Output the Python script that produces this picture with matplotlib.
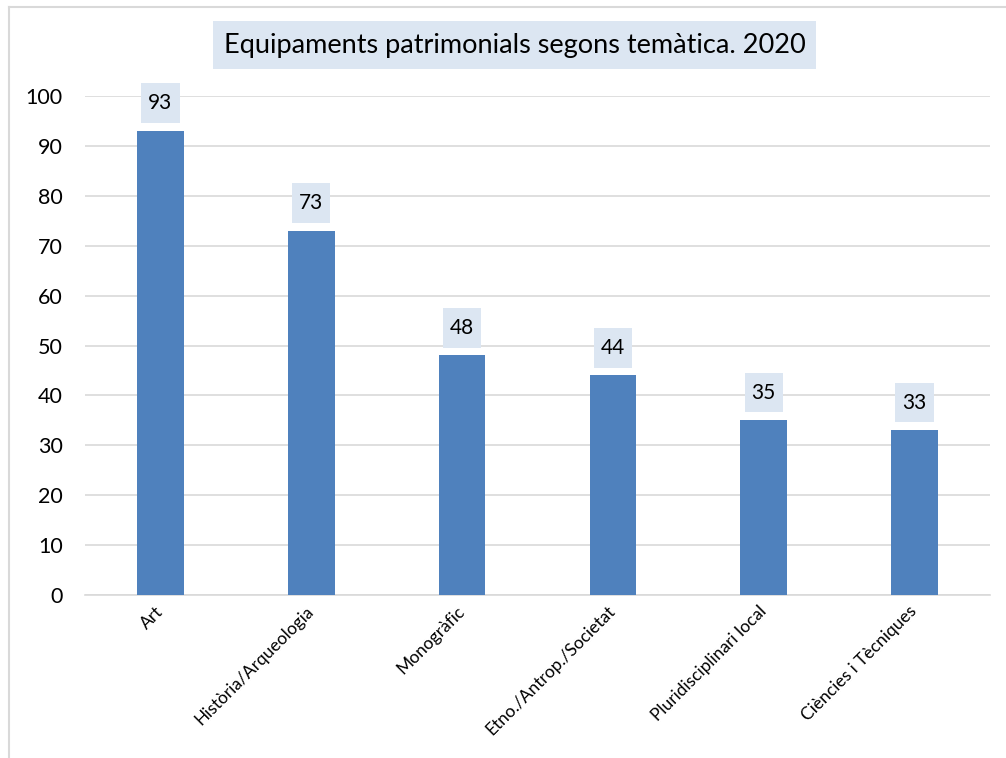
import matplotlib
matplotlib.use("Agg")
import matplotlib.pyplot as plt
from matplotlib.lines import Line2D

categories = ["Art", "Història/Arqueologia", "Monogràfic", "Etno./Antrop./Societat",
              "Pluridisciplinari local", "Ciències i Tècniques"]
values = [93, 73, 48, 44, 35, 33]
yticks = [0, 10, 20, 30, 40, 50, 60, 70, 80, 90, 100]
title = "Equipaments patrimonials segons temàtica. 2020"

W, H = 1006, 758
plt.rcParams['font.family'] = ['Lato', 'DejaVu Sans']
fig = plt.figure(figsize=(W / 100, H / 100), dpi=100)
ax = fig.add_axes([85 / W, 1 - 595 / H, (990 - 85) / W, (595 - 96) / H])

bar_color = "#4F81BD"
box_color = "#DCE6F2"
grid_color = "#D9D9D9"

x = list(range(len(categories)))
bars = ax.bar(x, values, width=0.31, color=bar_color, zorder=3)
ax.set_xlim(-0.5, len(categories) - 0.5)
ax.set_ylim(0, 100)
ax.set_yticks(yticks)
ax.set_yticklabels([str(t) for t in yticks], fontsize=15.5)
ax.yaxis.grid(True, color=grid_color, linewidth=1.2, zorder=0)
ax.tick_params(axis='y', length=0, pad=16)
ax.tick_params(axis='x', length=0, pad=10)
ax.set_xticks(x)
ax.set_xticklabels(categories, rotation=45, ha='right', va='center',
                   rotation_mode='anchor', fontsize=12.5)
for s in ['top', 'right', 'left']:
    ax.spines[s].set_visible(False)
ax.spines['bottom'].set_color(grid_color)
ax.spines['bottom'].set_linewidth(1.2)

for xi, v in zip(x, values):
    ax.annotate(str(v), xy=(xi, v), xytext=(0, 20), textcoords='offset points',
                ha='center', va='center', fontsize=15, color='black', zorder=4,
                bbox=dict(boxstyle='square,pad=0.34', facecolor=box_color, edgecolor='none',
                          mutation_aspect=1.4))

fig.text(514.5 / W, 1 - 45 / H, title, ha='center', va='center', fontsize=19.5,
         bbox=dict(boxstyle='square,pad=0.41', facecolor=box_color, edgecolor='none'))

fig.add_artist(Line2D([9 / W, 1], [1 - 6.5 / H, 1 - 6.5 / H], transform=fig.transFigure,
                      color=grid_color, linewidth=1.5))
fig.add_artist(Line2D([9 / W, 9 / W], [0, 1 - 6.5 / H], transform=fig.transFigure,
                      color=grid_color, linewidth=1.5))

fig.savefig("out.png", dpi=100)
